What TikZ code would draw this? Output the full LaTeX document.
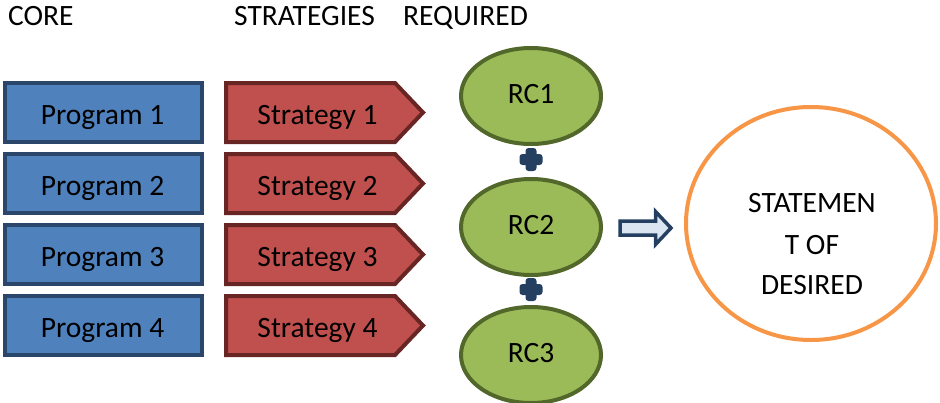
\documentclass[tikz,border=0pt]{standalone}
\usepackage{fontspec}
\setmainfont{Carlito}
\usetikzlibrary{shapes.geometric}
\definecolor{progfill}{HTML}{4F81BD}
\definecolor{progline}{HTML}{2A476B}
\definecolor{stratfill}{HTML}{C0504D}
\definecolor{stratline}{HTML}{672523}
\definecolor{rcfill}{HTML}{9BBB59}
\definecolor{rcline}{HTML}{52672A}
\definecolor{navy}{HTML}{243F60}
\definecolor{arrowfill}{HTML}{DBE5F1}
\definecolor{goalline}{HTML}{F79646}
\begin{document}
\begin{tikzpicture}[x=1pt,y=-1pt,
  txt/.style={inner sep=0pt,font=\fontsize{29.5}{35}\selectfont},
  progbox/.style={rectangle,draw=progline,fill=progfill,line width=4pt,minimum width=197pt,minimum height=59pt,inner sep=0pt},
  stratshape/.style={draw=stratline,fill=stratfill,line width=4pt,line join=miter},
  rcnode/.style={ellipse,draw=rcline,fill=rcfill,line width=4pt,minimum width=140pt,minimum height=96pt,inner sep=0pt},
  plusmark/.style={fill=navy,rounded corners=3pt},
  blockarrow/.style={draw=navy,fill=arrowfill,line width=3.5pt,line join=miter},
  goalnode/.style={ellipse,draw=goalline,fill=white,line width=4pt,minimum width=250pt,minimum height=233pt,inner sep=0pt}]
\useasboundingbox (0,0) rectangle (940,402);

% headers
\node[txt,anchor=base west] (hcore) at (8,25) {CORE};
\node[txt,anchor=base west] (hstrat) at (234,25) {STRATEGIES};
\node[txt,anchor=base west] (hreq) at (403,25) {REQUIRED};

% programs and strategies
\foreach \i/\yc in {1/112.5,2/183.5,3/254.5,4/325.5}{
  \node[progbox] (p\i) at (103.5,\yc) {};
  \node[txt,anchor=base] (pt\i) at (102.5,\yc+11.5) {Program \i};
  \draw[stratshape] (226,\yc-29.5) -- (395,\yc-29.5) -- (423,\yc) -- (395,\yc+29.5) -- (226,\yc+29.5) -- cycle;
  \node[txt,anchor=base] (st\i) at (317.5,\yc+11.5) {Strategy \i};
}

% required components
\foreach \i/\yc in {1/96,2/227,3/355}{
  \node[rcnode] (rc\i) at (531,\yc) {};
  \node[txt,anchor=base] (rct\i) at (531,\yc+7.5) {RC\i};
}

% plus signs
\foreach \yc in {159.5,289.5}{
  \fill[plusmark] (519.5,\yc-5.5) rectangle (542.5,\yc+5.5);
  \fill[plusmark] (525.5,\yc-11.5) rectangle (536.5,\yc+11.5);
}

% block arrow
\draw[blockarrow] (620,221) -- (655.5,221) -- (655.5,211.5) -- (671,228) -- (655.5,244.5) -- (655.5,235) -- (620,235) -- cycle;

% desired statement
\node[goalnode] (goal) at (811,223.5) {};
\node[txt,anchor=base] (g1) at (812,212) {STATEMEN};
\node[txt,anchor=base] (g2) at (812,254) {T OF};
\node[txt,anchor=base] (g3) at (812,294) {DESIRED};
\end{tikzpicture}
\end{document}
